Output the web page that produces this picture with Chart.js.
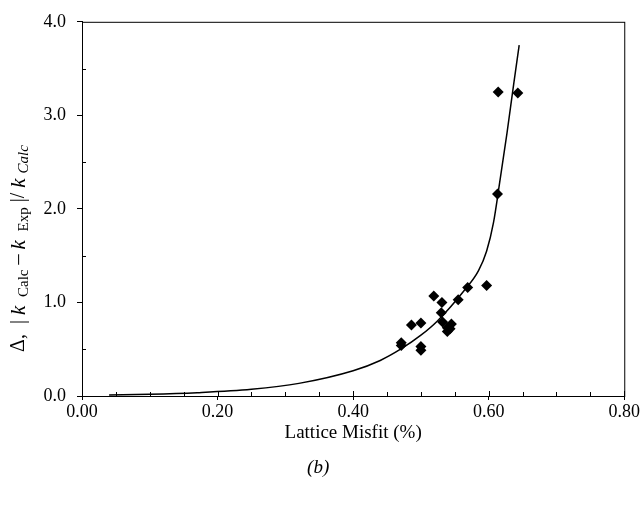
<!DOCTYPE html>
<html>
<head>
<meta charset="utf-8">
<script src="https://cdn.jsdelivr.net/npm/chart.js@4/dist/chart.umd.min.js"></script>
<style>
  body { margin: 0; background: #fff; }
  #wrap { width: 641px; height: 508px; }
</style>
</head>
<body>
<div id="wrap"><canvas id="misfitChart" width="641" height="508"></canvas></div>
<script>
// measured points
var misfit = [0.471, 0.471, 0.486, 0.500, 0.500, 0.500, 0.519, 0.531, 0.530, 0.532,
              0.539, 0.539, 0.545, 0.543, 0.555, 0.569, 0.597, 0.613, 0.614, 0.643];
var delta  = [0.57, 0.54, 0.76, 0.78, 0.53, 0.49, 1.07, 1.00, 0.89, 0.79,
              0.73, 0.69, 0.77, 0.72, 1.03, 1.16, 1.18, 2.16, 3.25, 3.24];

// fitted curve
var fitMisfit = [0.04, 0.10, 0.17, 0.25, 0.32, 0.40, 0.44, 0.47, 0.50, 0.524,
                 0.563, 0.585, 0.597, 0.607, 0.617, 0.627, 0.637, 0.645];
var fitDelta  = [0.01, 0.018, 0.036, 0.072, 0.135, 0.27, 0.38, 0.50, 0.65, 0.80,
                 1.12, 1.34, 1.55, 1.85, 2.32, 2.81, 3.34, 3.75];

var xTicks = [0, 0.2, 0.4, 0.6, 0.8];
var yTicks = [0, 1, 2, 3, 4];
var xMinor = [0.05, 0.1, 0.15, 0.25, 0.3, 0.35, 0.45, 0.5, 0.55, 0.65, 0.7, 0.75];
var yMinor = [0.5, 1.5, 2.5, 3.5];

var serif = "'Liberation Serif', 'Times New Roman', serif";

function pairs(xs, ys) {
  return xs.map(function (x, i) { return { x: x, y: ys[i] }; });
}

// frame, minor ticks, axis titles and caption
var extras = {
  id: "extras",
  afterDraw: function (chart) {
    var c = chart.ctx, a = chart.chartArea;
    var sx = chart.scales.x, sy = chart.scales.y;
    c.save();
    c.strokeStyle = "#000";
    c.lineWidth = 1;
    c.strokeRect(a.left + 0.5, a.top + 0.5, a.right - a.left, a.bottom - a.top);

    c.beginPath();
    xMinor.forEach(function (v) {
      var px = Math.round(sx.getPixelForValue(v)) + 0.5;
      c.moveTo(px, a.bottom);
      c.lineTo(px, a.bottom - 4);
    });
    yMinor.forEach(function (v) {
      var py = Math.round(sy.getPixelForValue(v)) + 0.5;
      c.moveTo(a.left, py);
      c.lineTo(a.left + 4, py);
    });
    // major ticks reach a little inside too
    xTicks.forEach(function (v) {
      var px = Math.round(sx.getPixelForValue(v)) + 0.5;
      c.moveTo(px, a.bottom);
      c.lineTo(px, a.bottom - 5);
    });
    c.stroke();

    c.fillStyle = "#000";
    c.textAlign = "center";
    c.textBaseline = "middle";
    c.font = "19px " + serif;
    c.fillText("Lattice Misfit (%)", (a.left + a.right) / 2, 433);
    c.font = "italic 19px " + serif;
    c.fillText("(b)", (a.left + a.right) / 2 - 35, 468);
    c.restore();

    // y title
    var parts = [
      { t: "\u0394, ", f: "20px " + serif, dy: 0 },
      { t: "|", f: "20px " + serif, dy: 0 },
      { t: "k", f: "italic 21px " + serif, dy: 0 },
      { t: " Calc", f: "15px " + serif, dy: 5 },
      { t: "\u2013", f: "20px " + serif, dy: 0 },
      { t: "k", f: "italic 21px " + serif, dy: 0 },
      { t: " Exp", f: "15px " + serif, dy: 5 },
      { t: "|/", f: "20px " + serif, dy: 0 },
      { t: "k", f: "italic 21px " + serif, dy: 0 },
      { t: "Calc", f: "italic 15px " + serif, dy: 5 }
    ];
    var gap = 5;
    var total = 0;
    c.save();
    parts.forEach(function (p) { c.font = p.f; p.w = c.measureText(p.t).width + gap; total += p.w; });
    c.translate(19, 246);
    c.rotate(-Math.PI / 2);
    c.fillStyle = "#000";
    c.textBaseline = "middle";
    var x = -total / 2;
    parts.forEach(function (p) {
      c.font = p.f;
      c.fillText(p.t, x, p.dy);
      x += p.w;
    });
    c.restore();
  }
};

var ctx = document.getElementById("misfitChart").getContext("2d");
var chart = new Chart(ctx, {
  type: "scatter",
  plugins: [extras],
  data: {
    datasets: [
      {
        label: "measured",
        data: pairs(misfit, delta),
        pointStyle: "rectRot",
        pointRadius: 5.5,
        backgroundColor: "#000",
        borderColor: "#000",
        borderWidth: 0
      },
      {
        label: "fit",
        data: pairs(fitMisfit, fitDelta),
        showLine: true,
        pointRadius: 0,
        borderColor: "#000",
        borderWidth: 1.5,
        cubicInterpolationMode: "monotone",
        fill: false
      }
    ]
  },
  options: {
    responsive: false,
    animation: false,
    layout: { padding: { top: 17, right: 0, left: 0, bottom: 0 } },
    plugins: {
      legend: { display: false },
      tooltip: { enabled: false }
    },
    scales: {
      x: {
        type: "linear",
        min: 0,
        max: 0.8,
        afterBuildTicks: function (s) { s.ticks = xTicks.map(function (v) { return { value: v }; }); },
        afterFit: function (s) { s.height = 112; },
        grid: { drawOnChartArea: false, color: "#000", tickLength: 4 },
        border: { color: "#000" },
        ticks: {
          color: "#000",
          padding: 1,
          font: { family: serif, size: 18 },
          callback: function (v) { return v.toFixed(2); }
        }
      },
      y: {
        type: "linear",
        min: 0,
        max: 4,
        afterBuildTicks: function (s) { s.ticks = yTicks.map(function (v) { return { value: v }; }); },
        afterFit: function (s) { s.width = 82; },
        grid: { drawOnChartArea: false, color: "#000", tickLength: 5 },
        border: { color: "#000" },
        ticks: {
          color: "#000",
          padding: 11,
          font: { family: serif, size: 18 },
          callback: function (v) { return v.toFixed(1); }
        }
      }
    }
  }
});
</script>
</body>
</html>
